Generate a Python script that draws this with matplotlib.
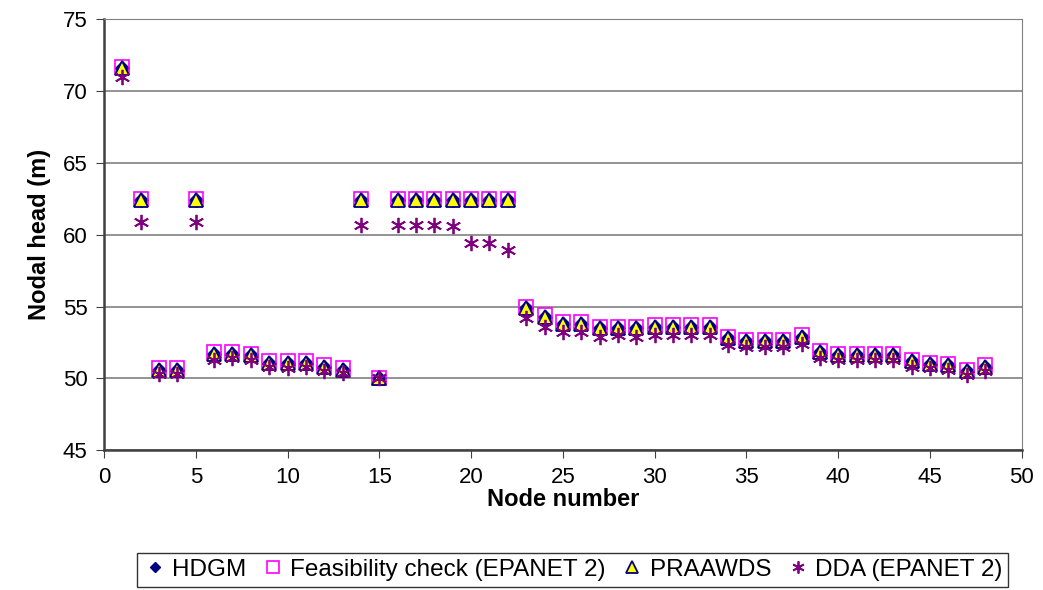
import matplotlib.pyplot as plt

plt.rcParams['font.family'] = ['Liberation Sans', 'DejaVu Sans']

nodes = list(range(1, 49))

# HDGM, feasibility check and PRAAWDS give practically the same heads
hdgm = [71.6, 62.4, 50.6, 50.6, 62.4, 51.7, 51.7, 51.6, 51.1, 51.1,
        51.1, 50.8, 50.6, 62.4, 50.0, 62.4, 62.4, 62.4, 62.4, 62.4,
        62.4, 62.4, 54.9, 54.3, 53.8, 53.8, 53.5, 53.5, 53.5, 53.6,
        53.6, 53.6, 53.6, 52.8, 52.6, 52.6, 52.6, 52.9, 51.8, 51.6,
        51.6, 51.6, 51.6, 51.2, 51.0, 50.9, 50.5, 50.8]
feasibility = [71.7, 62.5, 50.7, 50.7, 62.5, 51.8, 51.8, 51.7, 51.2, 51.2,
               51.2, 50.9, 50.7, 62.5, 50.0, 62.5, 62.5, 62.5, 62.5, 62.5,
               62.5, 62.5, 55.0, 54.4, 53.9, 53.9, 53.6, 53.6, 53.6, 53.7,
               53.7, 53.7, 53.7, 52.9, 52.7, 52.7, 52.7, 53.0, 51.9, 51.7,
               51.7, 51.7, 51.7, 51.3, 51.1, 51.0, 50.6, 50.9]
praawds = hdgm
dda = [71.0, 60.9, 50.3, 50.3, 60.9, 51.3, 51.4, 51.3, 50.8, 50.7,
       50.8, 50.5, 50.4, 60.7, 50.0, 60.7, 60.7, 60.7, 60.6, 59.4,
       59.4, 58.9, 54.2, 53.6, 53.2, 53.2, 52.9, 53.0, 52.9, 53.0,
       53.0, 53.0, 53.0, 52.3, 52.2, 52.2, 52.2, 52.4, 51.4, 51.3,
       51.3, 51.3, 51.3, 50.8, 50.7, 50.6, 50.2, 50.5]

fig = plt.figure(figsize=(10.43, 5.90), dpi=100)
ax = fig.add_axes([0.0997, 0.237, 0.880, 0.7305])

ax.plot(nodes, hdgm, 'D', color='#000080', markersize=7, linestyle='none', label='HDGM')
ax.plot(nodes, feasibility, 's', markerfacecolor='none', markeredgecolor='#FF00FF',
        markersize=10, markeredgewidth=1.2, linestyle='none', label='Feasibility check (EPANET 2)')
ax.plot(nodes, praawds, '^', markerfacecolor='#FFFF00', markeredgecolor='#000080',
        markersize=10, markeredgewidth=1.3, linestyle='none', label='PRAAWDS')
ax.plot(nodes, dda, marker=(6, 2, 0), color='#800080', markersize=11,
        markeredgewidth=1.3, linestyle='none', label='DDA (EPANET 2)')

ax.set_xlim(0, 50)
ax.set_ylim(45, 75)
ax.set_xticks(range(0, 51, 5))
ax.set_yticks(range(45, 76, 5))
ax.yaxis.grid(True, color='#808080', linewidth=1.2)
ax.set_axisbelow(True)
ax.tick_params(labelsize=16, direction='out', length=6, color='#404040', pad=6)
for s in ax.spines.values():
    s.set_color('#808080')
ax.spines['left'].set_color('#404040')
ax.spines['left'].set_linewidth(1.8)
ax.spines['bottom'].set_color('#404040')
ax.spines['bottom'].set_linewidth(1.8)

ax.set_xlabel('Node number', fontsize=17, fontweight='bold', labelpad=0)
ax.set_ylabel('Nodal head (m)', fontsize=17, fontweight='bold', labelpad=8)

leg = fig.legend(loc='upper center', bbox_to_anchor=(0.549, 0.084), ncol=4, fontsize=17.5,
                 frameon=True, fancybox=False, edgecolor='black', handletextpad=0.2,
                 columnspacing=0.6, borderpad=0.25, handlelength=1.0, markerscale=0.8)
leg.get_frame().set_linewidth(1.0)

plt.savefig('out.png', dpi=100)
